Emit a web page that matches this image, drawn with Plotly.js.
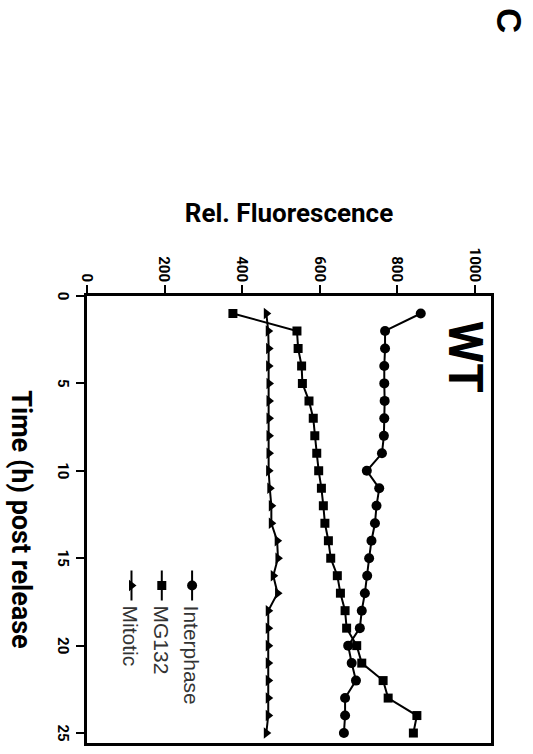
<!DOCTYPE html>
<html>
<head>
<meta charset="utf-8">
<script src="https://cdn.plot.ly/plotly-3.0.1.min.js"></script>
<style>
  html, body { margin: 0; padding: 0; width: 533px; height: 754px; overflow: hidden; background: #fff; }
  #wrap { position: absolute; left: 0; top: 0; width: 754px; height: 533px;
          transform-origin: 0 0; transform: translateX(533px) rotate(90deg); }
  #chart { width: 754px; height: 533px; }
</style>
</head>
<body>
<div id="wrap"><div id="chart"></div></div>
<script>
// ---- data ----
const timeHours = [1,2,3,4,5,6,7,8,9,10,11,12,13,14,15,16,17,18,19,20,21,22,23,24,25];
const interphase = [860,768,768,766,766,767,766,765,760,721,753,746,742,733,727,722,716,708,703,673,682,693,665,665,662];
const mg132 = [376,541,544,553,555,572,583,587,592,597,604,609,613,622,628,645,653,665,669,695,708,763,776,850,841];
const mitotic = [462,467,468,468,469,469,469,469,469,468,471,475,475,490,492,480,491,467,467,467,467,467,467,467,462];
const seriesNames = ["Interphase", "MG132", "Mitotic"];
const timeTicks = [0,5,10,15,20,25];
const fluorTicks = [0,200,400,600,800,1000];

const boldFam = "Roboto, 'Liberation Sans', Arial, sans-serif";

function tr(name, y, symbol, size) {
  return {
    x: timeHours, y: y, name: name, type: 'scatter', mode: 'lines+markers',
    line: {color: '#000', width: 2},
    marker: {symbol: symbol, size: size, color: '#000'}
  };
}

const data = [
  tr(seriesNames[0], interphase, 'circle', 10),
  tr(seriesNames[1], mg132, 'square', 9),
  tr(seriesNames[2], mitotic, 'triangle-up', 10)
];

const tickFont = {family: boldFam, size: 15, color: '#000', weight: 'bold'};

const layout = {
  width: 754, height: 533,
  margin: {l: 296, r: 11, t: 42, b: 87},
  paper_bgcolor: '#fff', plot_bgcolor: '#fff',
  showlegend: true,
  legend: {
    x: 0.603, y: 0.31, xanchor: 'left', yanchor: 'top',
    font: {family: "'Liberation Sans', Arial, sans-serif", size: 21, color: '#333'},
    bgcolor: 'rgba(0,0,0,0)', borderwidth: 0
  },
  xaxis: {
    range: [0, 25.57], tickvals: timeTicks, ticktext: timeTicks.map(String),
    ticks: 'outside', ticklen: 8, tickwidth: 2, tickcolor: '#000',
    showline: true, linewidth: 3, linecolor: '#000', mirror: true,
    showgrid: false, zeroline: false, tickfont: tickFont,
    title: {text: 'Time (h) post release', standoff: 25,
            font: {family: boldFam, size: 27, color: '#000', weight: 'bold'}}
  },
  yaxis: {
    range: [0, 1041], tickvals: fluorTicks, ticktext: fluorTicks.map(String),
    ticks: 'outside', ticklen: 8, tickwidth: 2, tickcolor: '#000',
    showline: true, linewidth: 3, linecolor: '#000', mirror: true,
    showgrid: false, zeroline: false, tickfont: tickFont,
    title: {text: 'Rel. Fluorescence', standoff: 18,
            font: {family: boldFam, size: 26, color: '#000', weight: 'bold'}}
  },
  annotations: [
    {text: 'WT', xref: 'paper', yref: 'paper', x: 0.137, y: 0.936,
     xanchor: 'center', yanchor: 'middle', showarrow: false,
     font: {family: boldFam, size: 48, color: '#000', weight: 'bold'}},
    {text: 'C', xref: 'paper', yref: 'paper', x: -0.617, y: 1.045,
     xanchor: 'center', yanchor: 'middle', showarrow: false,
     font: {family: "'Liberation Sans', Arial, sans-serif", size: 35, color: '#000', weight: 'bold'}}
  ]
};

Plotly.newPlot('chart', data, layout, {displayModeBar: false, staticPlot: true});
</script>
</body>
</html>
